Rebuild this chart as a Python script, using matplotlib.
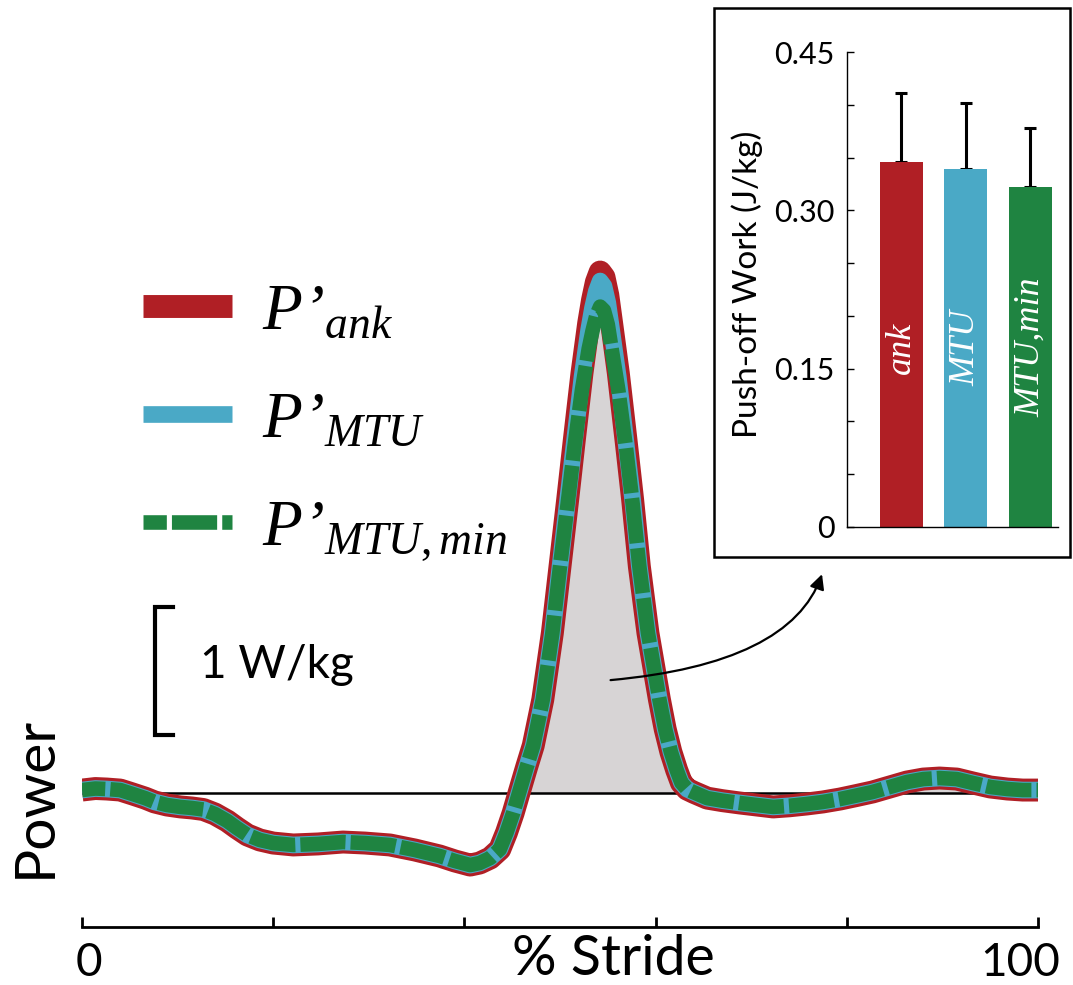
import matplotlib
matplotlib.use("Agg")
import matplotlib.pyplot as plt
from matplotlib.patches import Rectangle

plt.rcParams['font.family'] = ['Lato', 'DejaVu Sans']
plt.rcParams['mathtext.fontset'] = 'custom'
plt.rcParams['mathtext.it'] = 'Liberation Serif:italic'
plt.rcParams['mathtext.rm'] = 'Liberation Serif'

# ---- datos de la curva de potencia (% de zancada, W/kg) ----
stride = [0, 1.4, 2.6, 4.0, 5.3, 6.6, 7.6, 8.9, 10.3, 11.5,
          12.7, 13.9, 15.2, 16.2, 17.3, 18.6, 20.0, 22.1, 24.7, 27.3,
          29.6, 32.2, 34.8, 37.4, 39.0, 40.6, 41.6, 42.7, 43.7, 44.4,
          45.1, 45.8, 46.5, 47.2, 48.2, 49.2, 50.0, 50.8, 51.5, 52.3,
          53.0, 53.4, 53.8, 54.2, 54.6, 55.0, 55.4, 56.1, 56.9, 57.6,
          58.3, 59.2, 60.4, 61.0, 61.6, 62.2, 62.7, 63.3, 64.0, 65.4,
          67.0, 68.8, 70.6, 72.3, 74.0, 75.8, 77.5, 79.3, 81.0, 82.7,
          84.5, 86.3, 88.0, 89.7, 91.5, 93.2, 95.0, 96.8, 98.4, 100]

p_ank = [0.023, 0.035, 0.031, 0.023, -0.008, -0.04, -0.07, -0.094, -0.109, -0.117,
         -0.129, -0.164, -0.219, -0.273, -0.328, -0.367, -0.391, -0.406, -0.398, -0.383,
         -0.391, -0.406, -0.445, -0.492, -0.531, -0.563, -0.547, -0.508, -0.44, -0.31,
         -0.156, 0.023, 0.20, 0.37, 0.73, 1.25, 1.77, 2.29, 2.76, 3.28,
         3.67, 3.85, 3.99, 4.07, 4.03, 3.89, 3.67, 3.28, 2.76, 2.29,
         1.77, 1.25, 0.73, 0.50, 0.32, 0.18, 0.08, 0.03, 0.005, -0.04,
         -0.06, -0.078, -0.094, -0.109, -0.10, -0.086, -0.07, -0.047, -0.02, 0.008,
         0.047, 0.086, 0.109, 0.117, 0.109, 0.078, 0.047, 0.031, 0.023, 0.023]

p_mtu = [0.023, 0.035, 0.031, 0.023, -0.008, -0.04, -0.07, -0.094, -0.109, -0.117,
         -0.129, -0.164, -0.219, -0.273, -0.328, -0.367, -0.391, -0.406, -0.398, -0.383,
         -0.391, -0.406, -0.445, -0.492, -0.531, -0.563, -0.547, -0.508, -0.44, -0.31,
         -0.156, 0.023, 0.20, 0.37, 0.73, 1.25, 1.77, 2.29, 2.74, 3.25,
         3.62, 3.79, 3.92, 4.00, 3.96, 3.83, 3.62, 3.25, 2.74, 2.29,
         1.77, 1.25, 0.73, 0.50, 0.32, 0.18, 0.08, 0.03, 0.005, -0.04,
         -0.06, -0.078, -0.094, -0.109, -0.10, -0.086, -0.07, -0.047, -0.02, 0.008,
         0.047, 0.086, 0.109, 0.117, 0.109, 0.078, 0.047, 0.031, 0.023, 0.023]

p_mtu_min = [0.023, 0.035, 0.031, 0.023, -0.008, -0.04, -0.07, -0.094, -0.109, -0.117,
             -0.129, -0.164, -0.219, -0.273, -0.328, -0.367, -0.391, -0.406, -0.398, -0.383,
             -0.391, -0.406, -0.445, -0.492, -0.531, -0.563, -0.547, -0.508, -0.44, -0.31,
             -0.156, 0.023, 0.20, 0.37, 0.73, 1.25, 1.77, 2.26, 2.70, 3.15,
             3.47, 3.61, 3.73, 3.80, 3.77, 3.66, 3.47, 3.15, 2.70, 2.26,
             1.77, 1.25, 0.73, 0.50, 0.32, 0.18, 0.08, 0.03, 0.005, -0.04,
             -0.06, -0.078, -0.094, -0.109, -0.10, -0.086, -0.07, -0.047, -0.02, 0.008,
             0.047, 0.086, 0.109, 0.117, 0.109, 0.078, 0.047, 0.031, 0.023, 0.023]

xticks = [0, 20, 40, 60, 80, 100]

# ---- datos del recuadro (trabajo de empuje) ----
bar_names = ["ank", "MTU", "MTU,min"]
work = [0.346, 0.339, 0.322]
work_sd = [0.065, 0.063, 0.056]
work_sd_low = [0, 0, 0]
inset_ticks = [0, 0.15, 0.30, 0.45]
inset_tick_text = ["0", "0.15", "0.30", "0.45"]

red = "#B01F25"
blue = "#4AA9C6"
green = "#1F8441"
grey = "#D7D4D5"

W, H = 1073, 985
fig = plt.figure(figsize=(W / 100, H / 100), dpi=100)

# ejes principales
ax = fig.add_axes([82 / W, 1 - 927 / H, 956 / W, 907 / H])
ax.set_xlim(0, 100)
ax.set_ylim((793 - 927) / 128, (793 - 20) / 128)

ax.fill_between(stride, p_ank, 0, where=[v > 0 for v in p_ank],
                color=grey, lw=0, zorder=1)
ax.axhline(0, color="black", lw=1.8, zorder=2)

l1, = ax.plot(stride, p_ank, color=red, lw=16.5, solid_capstyle="butt",
              solid_joinstyle="round", zorder=3, label="P’${}_{ank}$")
l2, = ax.plot(stride, p_mtu, color=blue, lw=12, solid_capstyle="butt",
              solid_joinstyle="round", zorder=4, label="P’${}_{MTU}$")
l3, = ax.plot(stride, p_mtu_min, color=green, lw=10.5, dash_capstyle="butt",
              dash_joinstyle="round", zorder=5, label="P’${}_{MTU,min}$",
              linestyle=(1.5, (3.1, 0.35)))

leg = ax.legend(handles=[l1, l2, l3], loc="upper left",
                bbox_to_anchor=(143 / W, 1 - 283 / H), bbox_transform=fig.transFigure,
                frameon=False, borderpad=0, borderaxespad=0,
                handlelength=1.37, handletextpad=0.45, labelspacing=0.74,
                prop={"family": "Liberation Serif", "style": "italic", "size": 47})

# barra de escala 1 W/kg
sb_x, sb_w, sb_y0 = 7.6, 1.9, 0.453
ax.plot([sb_x + sb_w, sb_x, sb_x, sb_x + sb_w],
        [sb_y0 + 1, sb_y0 + 1, sb_y0, sb_y0], color="black", lw=3,
        solid_joinstyle="miter", zorder=3)
ax.text(12.3, 1.0, "1 W/kg", fontsize=33, va="center", ha="left")

for s in ["left", "right", "top"]:
    ax.spines[s].set_visible(False)
ax.spines["bottom"].set_linewidth(2)
ax.set_yticks([])
ax.set_xticks(xticks)
ax.set_xticklabels([])
ax.tick_params(axis="x", direction="in", length=7, width=2)
ax.text(0.7, -0.017, "0", fontsize=33, ha="center", va="top",
        transform=ax.get_xaxis_transform())
ax.text(98.1, -0.017, "100", fontsize=33, ha="center", va="top",
        transform=ax.get_xaxis_transform())
ax.set_xlabel("% Stride", fontsize=40)
ax.xaxis.set_label_coords(0.556, -0.008)
ax.text(-0.049, 0.143, "Power", rotation=90, fontsize=41,
        ha="center", va="center", transform=ax.transAxes)

# flecha hacia el recuadro
ax.annotate("", xy=(77.5, 1.73), xytext=(55.0, 0.88),
            arrowprops=dict(arrowstyle="-|>", color="black", lw=1.6,
                            mutation_scale=22,
                            connectionstyle="angle3,angleA=5,angleB=72"),
            zorder=6)

# recuadro
fig.add_artist(Rectangle((714 / W, 1 - 557 / H), 356 / W, 549 / H,
                         transform=fig.transFigure, fill=True, facecolor="white",
                         edgecolor="black", lw=1.8, zorder=2))

ins = fig.add_axes([847 / W, 1 - 527 / H, 211 / W, 475 / H])
ins.set_zorder(3)
ins.patch.set_alpha(0)
pos = [1, 2, 3]
ins.bar(pos, work, width=0.667, color=[red, blue, green], zorder=2)
ins.errorbar(pos, work, yerr=[work_sd_low, work_sd], fmt="none", ecolor="black",
             elinewidth=2.2, capsize=4, capthick=2.2, zorder=1)
for p, name in zip(pos, bar_names):
    ins.text(p, 0.17, name, rotation=90, ha="center", va="center", color="white",
             fontsize=26, family="Liberation Serif", style="italic")
ins.set_xlim(0.155, 3.43)
ins.set_ylim(0, 0.45)
ins.set_yticks(inset_ticks)
ins.set_yticklabels(inset_tick_text, fontsize=22)
ins.set_yticks([0.05, 0.10, 0.20, 0.25, 0.35, 0.40], minor=True)
ins.tick_params(axis="y", which="both", direction="in", length=5, width=1, pad=9)
ins.set_xticks([])
for s in ["right", "top"]:
    ins.spines[s].set_visible(False)
ins.spines["left"].set_linewidth(1)
ins.spines["bottom"].set_linewidth(1)
ins.set_ylabel("Push-off Work (J/kg)", fontsize=24)
ins.yaxis.set_label_coords(-0.40, 0.51)

fig.savefig("out.png", dpi=100)
